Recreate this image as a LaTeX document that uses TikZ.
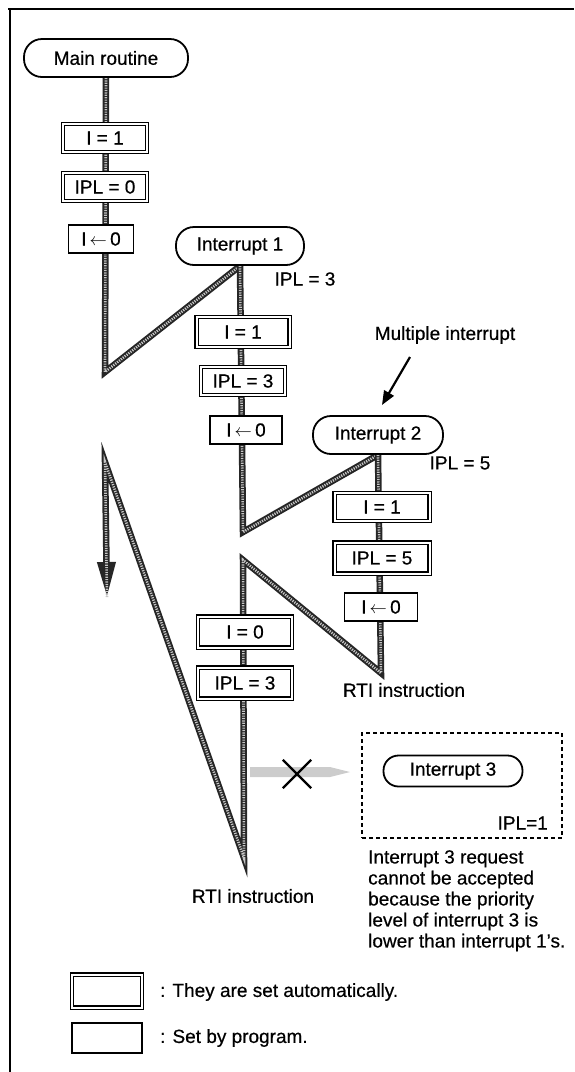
\documentclass[tikz,border=0pt]{standalone}
\usepackage{fontspec}
\setmainfont[FakeBold=0.5]{Liberation Sans}
\usetikzlibrary{arrows.meta,backgrounds,shapes.misc}
\begin{document}
\begin{tikzpicture}[x=1pt,y=-1pt,
  every node/.style={font=\fontsize{19}{21}\selectfont, inner sep=0pt},
  stadium/.style={draw, line width=1.8pt, rounded corners=18pt, minimum height=38pt, fill=white},
  autobox/.style={draw, double, double distance=2pt, line width=1.4pt, fill=white, minimum height=28pt},
  progbox/.style={draw, line width=1.5pt, fill=white, minimum height=28pt},
  flow/.style={line width=6.5pt, draw=black!85, line join=miter,
    postaction={draw=gray!45, line width=2.6pt, dash pattern=on 1.2pt off 1.2pt, -}},
  frameline/.style={line width=2pt},
]
\useasboundingbox (0,0) rectangle (574,1072);
% frame
\draw[frameline] (8,9) -- (574,9);
\draw[frameline] (10,9) -- (10,1072);

% main routine column
\node[stadium, minimum width=164pt] (main) at (106,58) {Main routine};
\node[autobox, minimum width=84pt] (a1) at (105,138) {I = 1};
\node[autobox, minimum width=84pt] (a2) at (105,187) {IPL = 0};
\node[progbox, minimum width=65pt] (a3) at (101,239) {I\,$\leftarrow$\,0};

% interrupt 1 column
\node[stadium, minimum width=128pt] (int1) at (240,246) {Interrupt 1};
\node (ipl1) at (305,279) {IPL = 3};
\node[autobox, minimum width=93pt, minimum height=30pt] (b1) at (243,332) {I = 1};
\node[autobox, minimum width=84pt] (b2) at (243,381) {IPL = 3};
\node[progbox, minimum width=72pt] (b3) at (246,430) {I\,$\leftarrow$\,0};

% multiple interrupt
\node (multi) at (445,335) {Multiple interrupt};
\coordinate (mstart) at (410,357);
\coordinate (mtip) at (382,405);
\draw[line width=2.2pt, -{Triangle[length=14pt,width=11pt]}] (mstart) -- (mtip);

% interrupt 2 column
\node[stadium, minimum width=130pt] (int2) at (378,435) {Interrupt 2};
\node (ipl2) at (460,463) {IPL = 5};
\node[autobox, minimum width=95pt] (c1) at (382,507) {I = 1};
\node[autobox, minimum width=95pt, minimum height=31pt] (c2) at (382,558) {IPL = 5};
\node[progbox, minimum width=73pt] (c3) at (381,607) {I\,$\leftarrow$\,0};
\node (rti1) at (404,690) {RTI instruction};

% return to interrupt 1
\node[autobox, minimum width=94pt, minimum height=31pt] (d1) at (245,632) {I = 0};
\node[autobox, minimum width=94pt, minimum height=31pt] (d2) at (245,683) {IPL = 3};
\node (rti2) at (253,896) {RTI instruction};

% interrupt 3
\node[draw, line width=1.3pt, dash pattern=on 4pt off 3pt, minimum width=200pt, minimum height=105pt] (box3) at (462,785.5) {};
\node[stadium, minimum width=139pt, minimum height=31pt, rounded corners=15pt] (int3) at (453,771) {Interrupt 3};
\node[anchor=east] (ipl3) at (548,823) {IPL=1};
\node[align=left, anchor=north west] (note) at (368,850) {Interrupt 3 request\\cannot be accepted\\because the priority\\level of interrupt 3 is\\lower than interrupt 1's.};

% legend
\node[autobox, minimum width=70pt, minimum height=33pt] (leg1) at (107,991) {};
\node[anchor=west] (leg1t) at (160,992) {: They are set automatically.};
\node[progbox, minimum width=70pt, minimum height=30pt] (leg2) at (107,1038) {};
\node[anchor=west] (leg2t) at (160,1038) {: Set by program.};

% flow coordinates
\coordinate (v1) at (105,372);
\coordinate (v2) at (243,532);
\coordinate (v3) at (381,673);
\coordinate (v4) at (243,560);
\coordinate (v5) at (244,858);
\coordinate (v6) at (105,462);
\coordinate (tip) at (107,598);

\begin{pgfonlayer}{background}
  \draw[flow] (main.south) -- (v1) -- (int1.south);
  \draw[flow] (int1.south) -- (v2) -- (int2.south);
  \draw[flow, -{Triangle[length=36pt,width=17pt]}] (int2.south) -- (v3) -- (v4) -- (v5) -- (v6) -- (tip);
  % rejected request from interrupt 3
  \fill[gray!40] (250,767) -- (330,767) -- (350,772) -- (330,777) -- (250,777) -- cycle;
\end{pgfonlayer}
\node[cross out, draw, line width=2.4pt, minimum size=26pt] (xm) at (297,774) {};
\end{tikzpicture}
\end{document}
